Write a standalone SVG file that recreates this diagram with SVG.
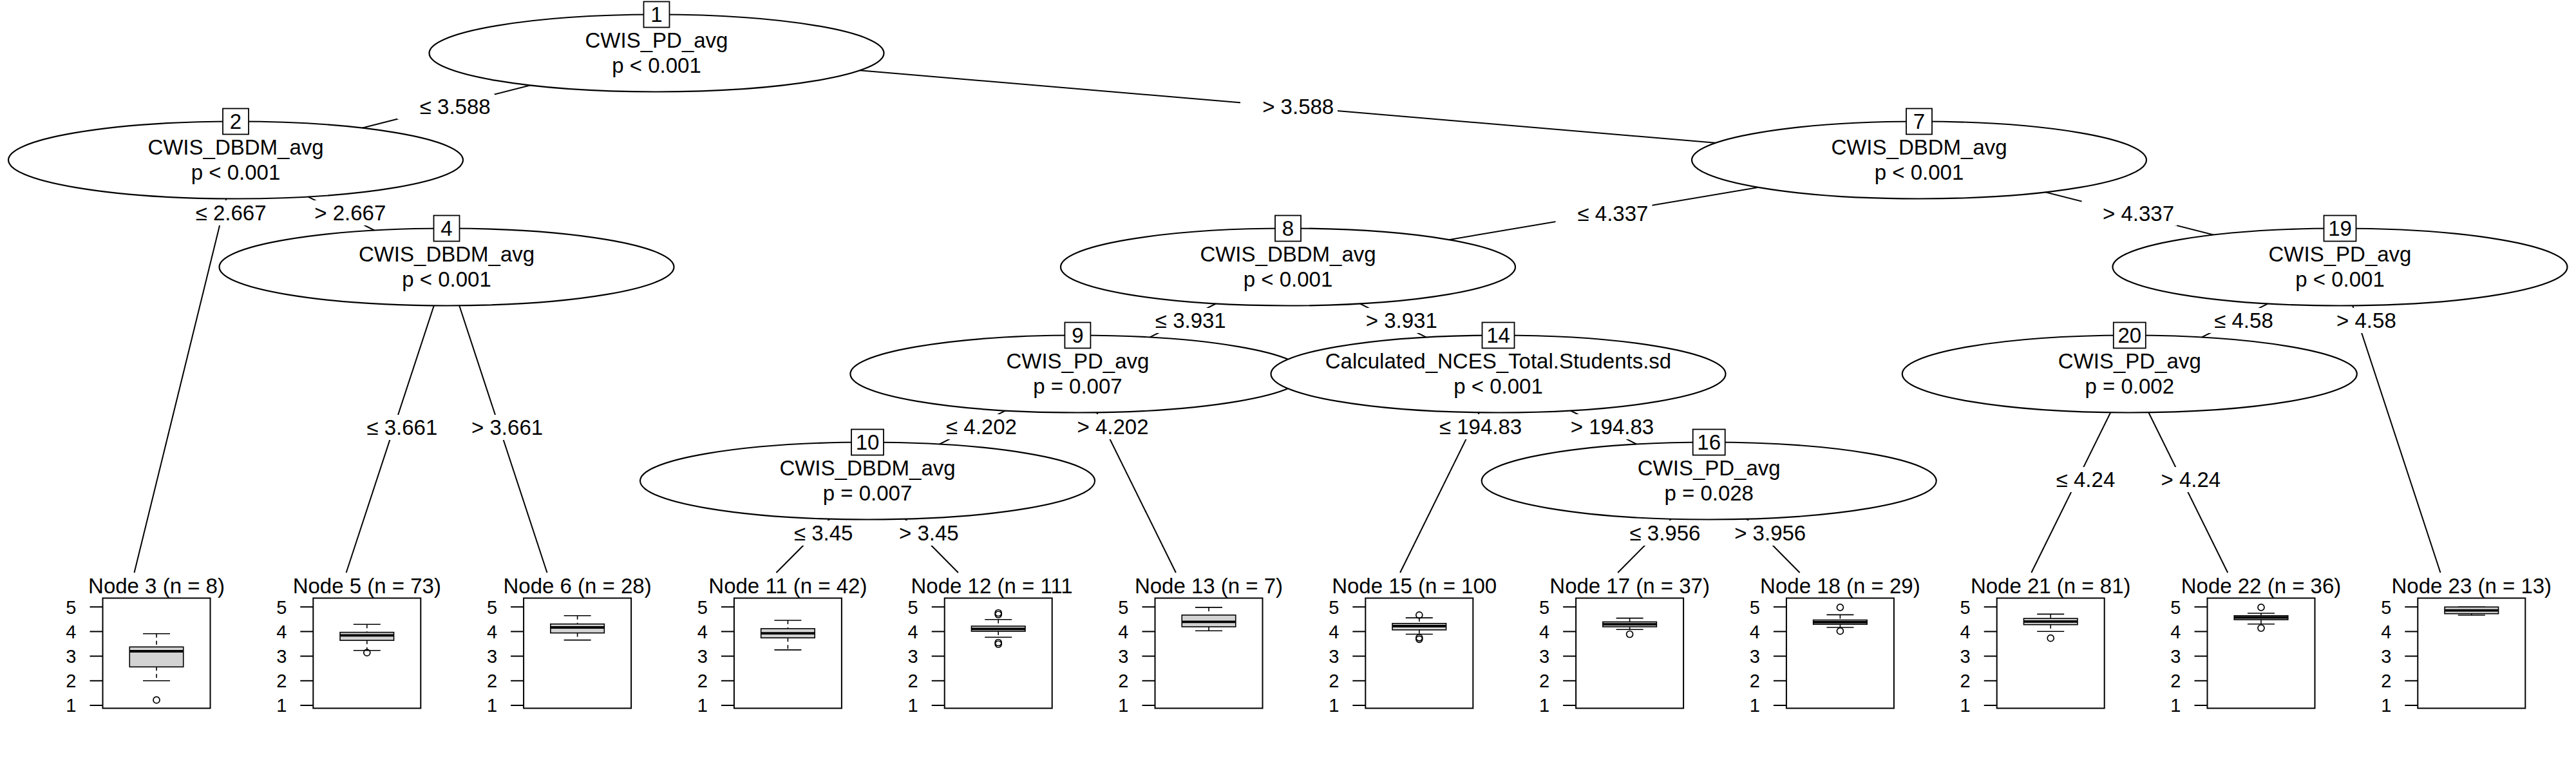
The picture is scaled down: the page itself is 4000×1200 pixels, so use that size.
<svg xmlns="http://www.w3.org/2000/svg" width="4000" height="1200" viewBox="0 0 4000 1200">
<style>
text{font-family:"Liberation Sans",Arial,Helvetica,sans-serif;fill:#000}
.t{font-size:33px;text-anchor:middle}
.ts{font-size:33px;text-anchor:start}
.tk{font-size:29px;text-anchor:end}
.edge{stroke:#000;stroke-width:2;fill:none}
.lbg{fill:#fff;stroke:none}
.inner{fill:#fff;stroke:#000;stroke-width:2.2}
.idb{fill:#fff;stroke:#000;stroke-width:1.8}
.panel{fill:#fff;stroke:#000;stroke-width:2}
.tick{stroke:#000;stroke-width:2}
.bx{fill:#d3d3d3;stroke:#000;stroke-width:1.6}
.med{stroke:#000;stroke-width:3.8}
.wh{stroke:#000;stroke-width:1.6;stroke-dasharray:6 5}
.cap{stroke:#000;stroke-width:1.6}
.out{fill:none;stroke:#000;stroke-width:1.7}
</style>
<defs>
<g id="axis">
<rect class="panel" x="0" y="928.5" width="167" height="171"/>
<line class="tick" x1="-20" y1="942.2" x2="0" y2="942.2"/>
<line class="tick" x1="-20" y1="980.4" x2="0" y2="980.4"/>
<line class="tick" x1="-20" y1="1018.6" x2="0" y2="1018.6"/>
<line class="tick" x1="-20" y1="1056.8" x2="0" y2="1056.8"/>
<line class="tick" x1="-20" y1="1095" x2="0" y2="1095"/>
<text class="tk" x="-41" y="952.5">5</text>
<text class="tk" x="-41" y="990.7">4</text>
<text class="tk" x="-41" y="1028.9">3</text>
<text class="tk" x="-41" y="1067.1">2</text>
<text class="tk" x="-41" y="1105.3">1</text>
</g>
</defs>
<rect x="0" y="0" width="4000" height="1200" fill="#fff"/>

<g id="connectors">
<line class="edge" x1="1019.5" y1="82.5" x2="366" y2="248.5"/>
<line class="edge" x1="1019.5" y1="82.5" x2="2980" y2="248.5"/>
<line class="edge" x1="366" y1="248.5" x2="208.5" y2="889"/>
<line class="edge" x1="366" y1="248.5" x2="693.5" y2="414.5"/>
<line class="edge" x1="693.5" y1="414.5" x2="537.6" y2="889"/>
<line class="edge" x1="693.5" y1="414.5" x2="849.5" y2="889"/>
<line class="edge" x1="2980" y1="248.5" x2="2000" y2="414.5"/>
<line class="edge" x1="2980" y1="248.5" x2="3633.5" y2="414.5"/>
<line class="edge" x1="2000" y1="414.5" x2="1673.4" y2="580.5"/>
<line class="edge" x1="2000" y1="414.5" x2="2326.5" y2="580.5"/>
<line class="edge" x1="1673.4" y1="580.5" x2="1347" y2="746.5"/>
<line class="edge" x1="1673.4" y1="580.5" x2="1825.9" y2="889"/>
<line class="edge" x1="1347" y1="746.5" x2="1205.4" y2="889"/>
<line class="edge" x1="1347" y1="746.5" x2="1487.9" y2="889"/>
<line class="edge" x1="2326.5" y1="580.5" x2="2174.1" y2="889"/>
<line class="edge" x1="2326.5" y1="580.5" x2="2653.7" y2="746.5"/>
<line class="edge" x1="2653.7" y1="746.5" x2="2512.1" y2="889"/>
<line class="edge" x1="2653.7" y1="746.5" x2="2794.6" y2="889"/>
<line class="edge" x1="3633.5" y1="414.5" x2="3306.8" y2="580.5"/>
<line class="edge" x1="3633.5" y1="414.5" x2="3789.5" y2="889"/>
<line class="edge" x1="3306.8" y1="580.5" x2="3154.3" y2="889"/>
<line class="edge" x1="3306.8" y1="580.5" x2="3459.2" y2="889"/>

<rect class="lbg" x="617" y="146" width="151" height="39"/><text class="t" x="706.7" y="177">≤ 3.588</text>
<rect class="lbg" x="1926" y="146" width="151" height="39"/><text class="t" x="2015.7" y="177">&gt; 3.588</text>
<rect class="lbg" x="269" y="311" width="151" height="39"/><text class="t" x="358.6" y="342">≤ 2.667</text>
<rect class="lbg" x="455" y="311" width="150" height="39"/><text class="t" x="543.8" y="342">&gt; 2.667</text>
<rect class="lbg" x="2415.5" y="312" width="150" height="39"/><text class="t" x="2504.5" y="343">≤ 4.337</text>
<rect class="lbg" x="3232.5" y="311.5" width="148" height="39"/><text class="t" x="3320.5" y="342.5">&gt; 4.337</text>
<rect class="lbg" x="537.6" y="644" width="145.5" height="39"/><text class="t" x="624.4" y="675">≤ 3.661</text>
<rect class="lbg" x="700" y="644" width="147" height="39"/><text class="t" x="787.6" y="675">&gt; 3.661</text>
<rect class="lbg" x="1762" y="478" width="145.6" height="39"/><text class="t" x="1848.8" y="509">≤ 3.931</text>
<rect class="lbg" x="2088.6" y="478" width="147.4" height="39"/><text class="t" x="2176.3" y="509">&gt; 3.931</text>
<rect class="lbg" x="3405.6" y="478" width="129" height="39"/><text class="t" x="3484" y="509">≤ 4.58</text>
<rect class="lbg" x="3595" y="478" width="131" height="39"/><text class="t" x="3674.4" y="509">&gt; 4.58</text>
<rect class="lbg" x="1435.6" y="643" width="148.7" height="39"/><text class="t" x="1524" y="674">≤ 4.202</text>
<rect class="lbg" x="1639.6" y="643" width="148.8" height="39"/><text class="t" x="1728" y="674">&gt; 4.202</text>
<rect class="lbg" x="2200.9" y="643" width="168.4" height="39"/><text class="t" x="2299" y="674">≤ 194.83</text>
<rect class="lbg" x="2405.6" y="643" width="167.8" height="39"/><text class="t" x="2503.5" y="674">&gt; 194.83</text>
<rect class="lbg" x="3160" y="725" width="129" height="39"/><text class="t" x="3238.5" y="756">≤ 4.24</text>
<rect class="lbg" x="3322.7" y="725" width="130" height="39"/><text class="t" x="3401.8" y="756">&gt; 4.24</text>
<rect class="lbg" x="1199.6" y="808" width="130" height="39"/><text class="t" x="1278.7" y="839">≤ 3.45</text>
<rect class="lbg" x="1363.5" y="808" width="129.5" height="39"/><text class="t" x="1442.3" y="839">&gt; 3.45</text>
<rect class="lbg" x="2498" y="808" width="147" height="39"/><text class="t" x="2585.5" y="839">≤ 3.956</text>
<rect class="lbg" x="2660.7" y="808" width="148" height="39"/><text class="t" x="2748.7" y="839">&gt; 3.956</text>
</g>

<g id="node1">
<ellipse class="inner" cx="1019.5" cy="82.5" rx="353" ry="60"/>
<rect class="idb" x="999.5" y="2.5" width="40" height="40"/>
<text class="t" x="1019.5" y="34.3">1</text>
<text class="t" x="1019.5" y="74">CWIS_PD_avg</text>
<text class="t" x="1019.5" y="113">p &lt; 0.001</text>
</g>
<g id="node2">
<ellipse class="inner" cx="366" cy="248.5" rx="353" ry="60"/>
<rect class="idb" x="346" y="168.5" width="40" height="40"/>
<text class="t" x="366" y="200.3">2</text>
<text class="t" x="366" y="240">CWIS_DBDM_avg</text>
<text class="t" x="366" y="279">p &lt; 0.001</text>
</g>
<g id="node4">
<ellipse class="inner" cx="693.5" cy="414.5" rx="353" ry="60"/>
<rect class="idb" x="673.5" y="334.5" width="40" height="40"/>
<text class="t" x="693.5" y="366.3">4</text>
<text class="t" x="693.5" y="406">CWIS_DBDM_avg</text>
<text class="t" x="693.5" y="445">p &lt; 0.001</text>
</g>
<g id="node7">
<ellipse class="inner" cx="2980" cy="248.5" rx="353" ry="60"/>
<rect class="idb" x="2960" y="168.5" width="40" height="40"/>
<text class="t" x="2980" y="200.3">7</text>
<text class="t" x="2980" y="240">CWIS_DBDM_avg</text>
<text class="t" x="2980" y="279">p &lt; 0.001</text>
</g>
<g id="node8">
<ellipse class="inner" cx="2000" cy="414.5" rx="353" ry="60"/>
<rect class="idb" x="1980" y="334.5" width="40" height="40"/>
<text class="t" x="2000" y="366.3">8</text>
<text class="t" x="2000" y="406">CWIS_DBDM_avg</text>
<text class="t" x="2000" y="445">p &lt; 0.001</text>
</g>
<g id="node19">
<ellipse class="inner" cx="3633.5" cy="414.5" rx="353" ry="60"/>
<rect class="idb" x="3608.5" y="334.5" width="50" height="40"/>
<text class="t" x="3633.5" y="366.3">19</text>
<text class="t" x="3633.5" y="406">CWIS_PD_avg</text>
<text class="t" x="3633.5" y="445">p &lt; 0.001</text>
</g>
<g id="node9">
<ellipse class="inner" cx="1673.4" cy="580.5" rx="353" ry="60"/>
<rect class="idb" x="1653.4" y="500.5" width="40" height="40"/>
<text class="t" x="1673.4" y="532.3">9</text>
<text class="t" x="1673.4" y="572">CWIS_PD_avg</text>
<text class="t" x="1673.4" y="611">p = 0.007</text>
</g>
<g id="node14">
<ellipse class="inner" cx="2326.5" cy="580.5" rx="353" ry="60"/>
<rect class="idb" x="2301.5" y="500.5" width="50" height="40"/>
<text class="t" x="2326.5" y="532.3">14</text>
<text class="t" x="2326.5" y="572">Calculated_NCES_Total.Students.sd</text>
<text class="t" x="2326.5" y="611">p &lt; 0.001</text>
</g>
<g id="node20">
<ellipse class="inner" cx="3306.8" cy="580.5" rx="353" ry="60"/>
<rect class="idb" x="3281.8" y="500.5" width="50" height="40"/>
<text class="t" x="3306.8" y="532.3">20</text>
<text class="t" x="3306.8" y="572">CWIS_PD_avg</text>
<text class="t" x="3306.8" y="611">p = 0.002</text>
</g>
<g id="node10">
<ellipse class="inner" cx="1347" cy="746.5" rx="353" ry="60"/>
<rect class="idb" x="1322" y="666.5" width="50" height="40"/>
<text class="t" x="1347" y="698.3">10</text>
<text class="t" x="1347" y="738">CWIS_DBDM_avg</text>
<text class="t" x="1347" y="777">p = 0.007</text>
</g>
<g id="node16">
<ellipse class="inner" cx="2653.7" cy="746.5" rx="353" ry="60"/>
<rect class="idb" x="2628.7" y="666.5" width="50" height="40"/>
<text class="t" x="2653.7" y="698.3">16</text>
<text class="t" x="2653.7" y="738">CWIS_PD_avg</text>
<text class="t" x="2653.7" y="777">p = 0.028</text>
</g>

<g id="node3">
<text class="t" x="243" y="920.5">Node 3 (n = 8)</text>
<use href="#axis" x="159.5"/>
<line class="wh" x1="243" y1="983.7" x2="243" y2="1004.3"/>
<line class="wh" x1="243" y1="1035.3" x2="243" y2="1056.7"/>
<line class="cap" x1="222" y1="983.7" x2="264" y2="983.7"/>
<line class="cap" x1="222" y1="1056.7" x2="264" y2="1056.7"/>
<rect class="bx" x="201.25" y="1004.3" width="83.5" height="31"/>
<line class="med" x1="201.25" y1="1011" x2="284.75" y2="1011"/>
<circle class="out" cx="243" cy="1086.7" r="5"/>
</g>
<g id="node5">
<text class="t" x="569.8" y="920.5">Node 5 (n = 73)</text>
<use href="#axis" x="486.3"/>
<line class="wh" x1="569.8" y1="969.2" x2="569.8" y2="981.6"/>
<line class="wh" x1="569.8" y1="994.1" x2="569.8" y2="1009.8"/>
<line class="cap" x1="548.8" y1="969.2" x2="590.8" y2="969.2"/>
<line class="cap" x1="548.8" y1="1009.8" x2="590.8" y2="1009.8"/>
<rect class="bx" x="528.05" y="981.6" width="83.5" height="12.5"/>
<line class="med" x1="528.05" y1="986.4" x2="611.55" y2="986.4"/>
<circle class="out" cx="569.8" cy="1013.2" r="5"/>
</g>
<g id="node6">
<text class="t" x="896.6" y="920.5">Node 6 (n = 28)</text>
<use href="#axis" x="813.1"/>
<line class="wh" x1="896.6" y1="955.8" x2="896.6" y2="968.7"/>
<line class="wh" x1="896.6" y1="982.6" x2="896.6" y2="993.6"/>
<line class="cap" x1="875.6" y1="955.8" x2="917.6" y2="955.8"/>
<line class="cap" x1="875.6" y1="993.6" x2="917.6" y2="993.6"/>
<rect class="bx" x="854.85" y="968.7" width="83.5" height="13.9"/>
<line class="med" x1="854.85" y1="974" x2="938.35" y2="974"/>
</g>
<g id="node11">
<text class="t" x="1223.4" y="920.5">Node 11 (n = 42)</text>
<use href="#axis" x="1139.9"/>
<line class="wh" x1="1223.4" y1="963" x2="1223.4" y2="975.9"/>
<line class="wh" x1="1223.4" y1="990.2" x2="1223.4" y2="1008.9"/>
<line class="cap" x1="1202.4" y1="963" x2="1244.4" y2="963"/>
<line class="cap" x1="1202.4" y1="1008.9" x2="1244.4" y2="1008.9"/>
<rect class="bx" x="1181.65" y="975.9" width="83.5" height="14.3"/>
<line class="med" x1="1181.65" y1="983.1" x2="1265.15" y2="983.1"/>
</g>
<g id="node12">
<text class="ts" x="1414.5" y="920.5">Node 12 (n = 111</text>
<use href="#axis" x="1466.7"/>
<line class="wh" x1="1550.2" y1="961.7" x2="1550.2" y2="972"/>
<line class="wh" x1="1550.2" y1="980" x2="1550.2" y2="989.3"/>
<line class="cap" x1="1529.2" y1="961.7" x2="1571.2" y2="961.7"/>
<line class="cap" x1="1529.2" y1="989.3" x2="1571.2" y2="989.3"/>
<rect class="bx" x="1508.45" y="972" width="83.5" height="8"/>
<line class="med" x1="1508.45" y1="976.3" x2="1591.95" y2="976.3"/>
<circle class="out" cx="1550.2" cy="951.5" r="5"/>
<circle class="out" cx="1550.2" cy="954" r="5"/>
<circle class="out" cx="1550.2" cy="997.5" r="5"/>
<circle class="out" cx="1550.2" cy="1000" r="5"/>
</g>
<g id="node13">
<text class="t" x="1877" y="920.5">Node 13 (n = 7)</text>
<use href="#axis" x="1793.5"/>
<line class="wh" x1="1877" y1="942.9" x2="1877" y2="954.8"/>
<line class="wh" x1="1877" y1="973" x2="1877" y2="979.2"/>
<line class="cap" x1="1856" y1="942.9" x2="1898" y2="942.9"/>
<line class="cap" x1="1856" y1="979.2" x2="1898" y2="979.2"/>
<rect class="bx" x="1835.25" y="954.8" width="83.5" height="18.2"/>
<line class="med" x1="1835.25" y1="965.4" x2="1918.75" y2="965.4"/>
</g>
<g id="node15">
<text class="ts" x="2068.2" y="920.5">Node 15 (n = 100</text>
<use href="#axis" x="2120.3"/>
<line class="wh" x1="2203.8" y1="959.1" x2="2203.8" y2="967.8"/>
<line class="wh" x1="2203.8" y1="977.8" x2="2203.8" y2="984.5"/>
<line class="cap" x1="2182.8" y1="959.1" x2="2224.8" y2="959.1"/>
<line class="cap" x1="2182.8" y1="984.5" x2="2224.8" y2="984.5"/>
<rect class="bx" x="2162.05" y="967.8" width="83.5" height="10"/>
<line class="med" x1="2162.05" y1="972" x2="2245.55" y2="972"/>
<circle class="out" cx="2203.8" cy="954.8" r="5"/>
<circle class="out" cx="2203.8" cy="989.8" r="5"/>
<circle class="out" cx="2203.8" cy="992.3" r="5"/>
</g>
<g id="node17">
<text class="t" x="2530.6" y="920.5">Node 17 (n = 37)</text>
<use href="#axis" x="2447.1"/>
<line class="wh" x1="2530.6" y1="959.6" x2="2530.6" y2="965.4"/>
<line class="wh" x1="2530.6" y1="973" x2="2530.6" y2="977.3"/>
<line class="cap" x1="2509.6" y1="959.6" x2="2551.6" y2="959.6"/>
<line class="cap" x1="2509.6" y1="977.3" x2="2551.6" y2="977.3"/>
<rect class="bx" x="2488.85" y="965.4" width="83.5" height="7.6"/>
<line class="med" x1="2488.85" y1="969.2" x2="2572.35" y2="969.2"/>
<circle class="out" cx="2530.6" cy="984.5" r="5"/>
</g>
<g id="node18">
<text class="t" x="2857.4" y="920.5">Node 18 (n = 29)</text>
<use href="#axis" x="2773.9"/>
<line class="wh" x1="2857.4" y1="954.4" x2="2857.4" y2="962.5"/>
<line class="wh" x1="2857.4" y1="969.2" x2="2857.4" y2="974"/>
<line class="cap" x1="2836.4" y1="954.4" x2="2878.4" y2="954.4"/>
<line class="cap" x1="2836.4" y1="974" x2="2878.4" y2="974"/>
<rect class="bx" x="2815.65" y="962.5" width="83.5" height="6.7"/>
<line class="med" x1="2815.65" y1="965.8" x2="2899.15" y2="965.8"/>
<circle class="out" cx="2857.4" cy="942.9" r="5"/>
<circle class="out" cx="2857.4" cy="979.7" r="5"/>
</g>
<g id="node21">
<text class="t" x="3184.2" y="920.5">Node 21 (n = 81)</text>
<use href="#axis" x="3100.7"/>
<line class="wh" x1="3184.2" y1="953.4" x2="3184.2" y2="960.1"/>
<line class="wh" x1="3184.2" y1="969.7" x2="3184.2" y2="980.2"/>
<line class="cap" x1="3163.2" y1="953.4" x2="3205.2" y2="953.4"/>
<line class="cap" x1="3163.2" y1="980.2" x2="3205.2" y2="980.2"/>
<rect class="bx" x="3142.45" y="960.1" width="83.5" height="9.6"/>
<line class="med" x1="3142.45" y1="964.9" x2="3225.95" y2="964.9"/>
<circle class="out" cx="3184.2" cy="990.7" r="5"/>
</g>
<g id="node22">
<text class="t" x="3511" y="920.5">Node 22 (n = 36)</text>
<use href="#axis" x="3427.5"/>
<line class="wh" x1="3511" y1="952" x2="3511" y2="955.8"/>
<line class="wh" x1="3511" y1="962" x2="3511" y2="968.7"/>
<line class="cap" x1="3490" y1="952" x2="3532" y2="952"/>
<line class="cap" x1="3490" y1="968.7" x2="3532" y2="968.7"/>
<rect class="bx" x="3469.25" y="955.8" width="83.5" height="6.2"/>
<line class="med" x1="3469.25" y1="958.7" x2="3552.75" y2="958.7"/>
<circle class="out" cx="3511" cy="942.9" r="5"/>
<circle class="out" cx="3511" cy="975" r="5"/>
</g>
<g id="node23">
<text class="t" x="3837.8" y="920.5">Node 23 (n = 13)</text>
<use href="#axis" x="3754.3"/>
<line class="wh" x1="3837.8" y1="952.7" x2="3837.8" y2="955"/>
<line class="cap" x1="3816.8" y1="942.3" x2="3858.8" y2="942.3"/>
<line class="cap" x1="3816.8" y1="955" x2="3858.8" y2="955"/>
<rect class="bx" x="3796.05" y="942.3" width="83.5" height="10.4"/>
<line class="med" x1="3796.05" y1="947.7" x2="3879.55" y2="947.7"/>
</g>
</svg>
